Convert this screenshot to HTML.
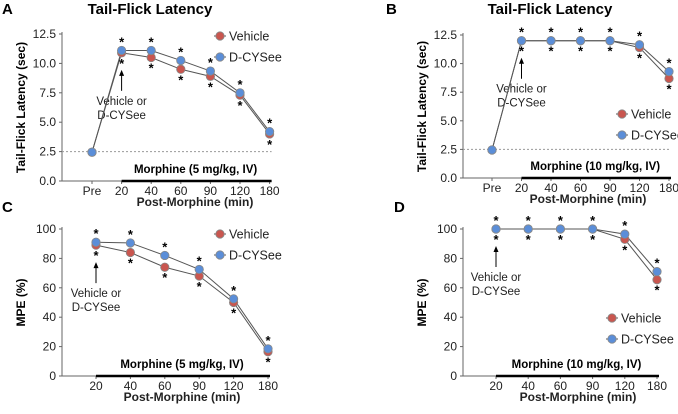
<!DOCTYPE html>
<html><head><meta charset="utf-8"><style>
body{margin:0;background:#fff;}
svg text{font-family:"Liberation Sans",Arial,sans-serif;}
</style></head><body>
<svg id="fig" width="678" height="409" xmlns="http://www.w3.org/2000/svg"></svg>
<script>
const catsTF = ["Pre","20","40","60","90","120","180"];
const catsMPE = ["20","40","60","90","120","180"];
const aVehicle = [2.45,10.9,10.5,9.5,8.9,7.3,4.0];
const aCysee = [2.45,11.1,11.1,10.25,9.35,7.5,4.2];
const bVehicle = [2.45,12,12,12,12,11.4,8.7];
const bCysee = [2.45,12,12,12,12,11.65,9.3];
const cVehicle = [89,84,74,68,50,16.5];
const cCysee = [91,90.5,82,72.5,52.5,18.5];
const dVehicle = [100,100,100,100,93,65.5];
const dCysee = [100,100,100,100,96.5,71];
const tfTicks = ["0.0","2.5","5.0","7.5","10.0","12.5"];
const mpeTicks = ["0","20","40","60","80","100"];

const svg = document.getElementById('fig');
const NS = "http://www.w3.org/2000/svg";
function el(tag, attrs, text){
  const e = document.createElementNS(NS, tag);
  for (const k in attrs) e.setAttribute(k, attrs[k]);
  if (text !== undefined) e.textContent = text;
  svg.appendChild(e);
  return e;
}

function panel(p){
  const yScale = v => p.y0 - (v - p.vmin)/(p.vmax - p.vmin)*(p.y0 - p.y1);
  const xScale = i => p.xFirst + i*p.dx;
  const xEnd = xScale(p.cats.length-1);
  let t;
  t = el('text',{x:p.letterX,y:p.letterY,'font-size':15,'font-weight':'bold'},p.letter);
  
  
  if (p.title){
    t = el('text',{x:p.titleX,y:14,'font-size':15,'font-weight':'bold','text-anchor':'middle'},p.title);
    
    
  }
  let a = el('line',{x1:p.ax,y1:p.y1-2,x2:p.ax,y2:p.y0,stroke:'#666','stroke-width':1});
  
  
  a = el('line',{x1:p.ax,y1:p.y0,x2:xEnd+2,y2:p.y0,stroke:'#666','stroke-width':1});
  
  
  p.ticks.forEach((lab,i)=>{
    const v = parseFloat(lab);
    const y = yScale(v);
    const tk = el('line',{x1:p.ax-3,y1:y,x2:p.ax,y2:y,stroke:'#666'});
    
    
    const tl = el('text',{x:p.ax-6,y:y+4,'font-size':12,'text-anchor':'end',fill:'#222'},lab);
    
    
  });
  p.cats.forEach((c,i)=>{
    const x = xScale(i);
    const tk = el('line',{x1:x,y1:p.y0,x2:x,y2:p.y0+3,stroke:'#666'});
    
    
    const tl = el('text',{x:x,y:p.y0+14,'font-size':12,'text-anchor':'middle',fill:'#222'},c);
    
    
  });
  t = el('text',{x:0,y:0,'font-size':12,'font-weight':'bold','text-anchor':'middle',transform:`translate(${p.ax-37},${(p.y0+p.y1)/2}) rotate(-90)`},p.ytitle);
  
  
  t = el('text',{x:p.xtitleX,y:p.y0+25,'font-size':12,'font-weight':'bold','text-anchor':'middle',fill:'#222'},'Post-Morphine (min)');
  
  
  const mStart = xScale(p.mIdx);
  a = el('line',{x1:mStart,y1:p.y0,x2:xEnd+2,y2:p.y0,stroke:'#000','stroke-width':2.5});
  
  
  t = el('text',{x:(mStart+xEnd)/2,y:p.y0-8,'font-size':11.5,'font-weight':'bold','text-anchor':'middle'},p.mLabel);
  
  
  if (p.baseline !== undefined){
    a = el('line',{x1:p.ax,y1:yScale(p.baseline),x2:xEnd+2,y2:yScale(p.baseline),stroke:'#999','stroke-dasharray':'2,2'});
    
    
  }
  const ax = xScale(p.mIdx);
  const vTop = yScale(Math.min(p.veh[p.mIdx],p.cys[p.mIdx]));
  a = el('line',{x1:ax,y1:vTop+38,x2:ax,y2:vTop+19,stroke:'#000'});
  
  
  a = el('path',{d:`M${ax-2.5},${vTop+23} L${ax},${vTop+17} L${ax+2.5},${vTop+23}Z`,fill:'#000'});
  
  
  t = el('text',{x:ax,y:vTop+52,'font-size':11.5,'text-anchor':'middle',fill:'#222'},'Vehicle or');
  
  
  t = el('text',{x:ax,y:vTop+66,'font-size':11.5,'text-anchor':'middle',fill:'#222'},'D-CYSee');
  
  
  [[p.veh,'vehicle'],[p.cys,'d-cysee']].forEach(([arr,nm])=>{
    const pts = arr.map((v,i)=>xScale(i)+','+yScale(v)).join(' ');
    const l = el('polyline',{points:pts,fill:'none',stroke:'#555','stroke-width':1});
    
    
  });
  p.veh.forEach((v,i)=>{
    if (i < p.mIdx) return;
    const x = xScale(i);
    const top = yScale(Math.max(v,p.cys[i])), bot = yScale(Math.min(v,p.cys[i]));
    let s = el('text',{x:x,y:top-4,'font-size':13,'font-weight':'bold','text-anchor':'middle'},'*');
    
    
    s = el('text',{x:x,y:bot+15,'font-size':13,'font-weight':'bold','text-anchor':'middle'},'*');
    
    
  });
  [[p.veh,'#c9564f','vehicle'],[p.cys,'#5b8ed8','d-cysee']].forEach(([arr,col,nm])=>{
    arr.forEach((v,i)=>{
      const c = el('circle',{cx:xScale(i),cy:yScale(v),r:4.2,fill:col,stroke:'#888','stroke-width':0.8});
      
      
    });
  });
  [['Vehicle','#c9564f'],['D-CYSee','#5b8ed8']].forEach(([lab,col],k)=>{
    const y = p.legY + k*21;
    let l = el('line',{x1:p.legX-6,y1:y,x2:p.legX+6,y2:y,stroke:'#555'});
    
    
    const c = el('circle',{cx:p.legX,cy:y,r:4.2,fill:col,stroke:'#888','stroke-width':0.8});
    
    
    const tt = el('text',{x:p.legX+9,y:y+4.5,'font-size':12.5,fill:'#222'},lab);
    
    
  });
}

panel({letter:'A',letterX:2,letterY:14,title:'Tail-Flick Latency',titleX:150,ax:62,y0:181,y1:34,vmin:0,vmax:12.5,
  cats:catsTF,xFirst:92,dx:29.6,ticks:tfTicks,ytitle:'Tail-Flick Latency (sec)',xtitleX:195,mIdx:1,
  mLabel:'Morphine (5 mg/kg, IV)',baseline:2.5,veh:aVehicle,cys:aCysee,legX:220,legY:36});
panel({letter:'B',letterX:386,letterY:14,title:'Tail-Flick Latency',titleX:550,ax:463,y0:178,y1:35,vmin:0,vmax:12.5,
  cats:catsTF,xFirst:492,dx:29.5,ticks:tfTicks,ytitle:'Tail-Flick Latency (sec)',xtitleX:588,mIdx:1,
  mLabel:'Morphine (10 mg/kg, IV)',baseline:2.5,veh:bVehicle,cys:bCysee,legX:622,legY:114});
panel({letter:'C',letterX:2,letterY:212,title:null,ax:62,y0:376,y1:229,vmin:0,vmax:100,
  cats:catsMPE,xFirst:96,dx:34.4,ticks:mpeTicks,ytitle:'MPE (%)',xtitleX:182,mIdx:0,
  mLabel:'Morphine (5 mg/kg, IV)',veh:cVehicle,cys:cCysee,legX:220,legY:234});
panel({letter:'D',letterX:394,letterY:212,title:null,ax:463,y0:376,y1:229,vmin:0,vmax:100,
  cats:catsMPE,xFirst:496,dx:32.2,ticks:mpeTicks,ytitle:'MPE (%)',xtitleX:578,mIdx:0,
  mLabel:'Morphine (10 mg/kg, IV)',veh:dVehicle,cys:dCysee,legX:612,legY:318});
</script>
</body></html>
